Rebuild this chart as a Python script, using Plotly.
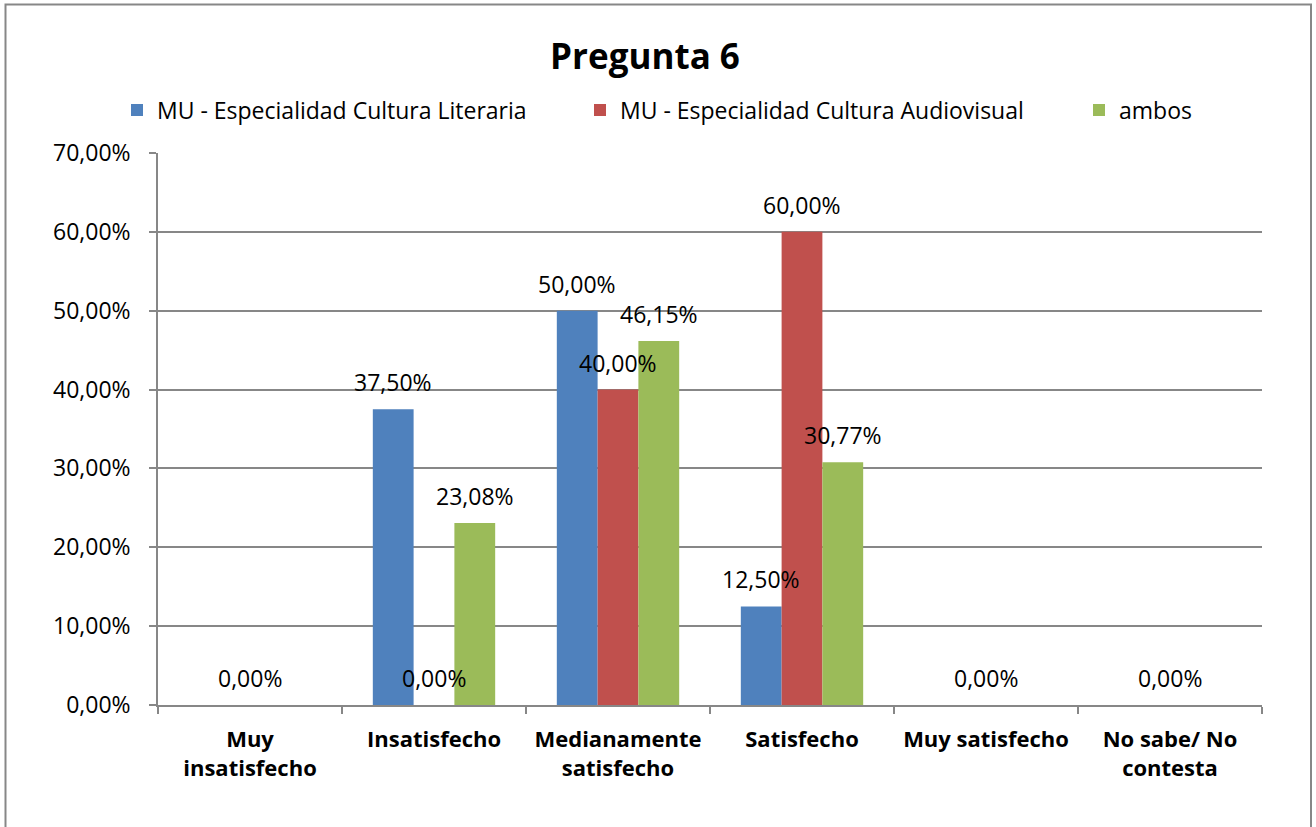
import plotly.graph_objects as go

categories = ["Muy<br>insatisfecho", "Insatisfecho", "Medianamente<br>satisfecho",
              "Satisfecho", "Muy satisfecho", "No sabe/ No<br>contesta"]
literaria = [None, 0.375, 0.50, 0.125, None, None]
audiovisual = [0.0, 0.0, 0.40, 0.60, 0.0, 0.0]
ambos = [None, 0.2308, 0.4615, 0.3077, None, None]
series_names = ["MU - Especialidad Cultura Literaria",
                "MU - Especialidad Cultura Audiovisual", "ambos"]
colors = ["#4F81BD", "#C0504D", "#9BBB59"]
ytick_vals = [0, 0.1, 0.2, 0.3, 0.4, 0.5, 0.6, 0.7]

FONT = "Open Sans"
W, H = 1316, 827
L, R, T, B = 158, 54, 153, 122
pw, ph = W - L - R, H - T - B


def px_x(p):
    return (p - L) / pw


def px_y(p):
    return (H - B - p) / ph


fig = go.Figure()
legend_ids = ["legend", "legend2", "legend3"]
for name, vals, col, lg in zip(series_names, [literaria, audiovisual, ambos], colors, legend_ids):
    fig.add_trace(go.Bar(
        x=categories, y=vals, name=name, marker_color=col,
        marker_line_width=0, legend=lg,
    ))

# data labels as annotations (drawn on top of all bars)
bar_px = pw / len(categories) * (1 - 0.335) / 3
annotations = []
for i, vals in enumerate([literaria, audiovisual, ambos]):
    for cat, v in zip(categories, vals):
        if v is None:
            continue
        annotations.append(dict(
            x=cat, y=v, xref="x", yref="y",
            text=f"{v * 100:.2f}%".replace(".", ","),
            showarrow=False, xshift=(i - 1) * bar_px, yshift=27,
            yanchor="middle", xanchor="center",
            font=dict(family=FONT, size=23, color="#000000"),
        ))

legend_common = dict(orientation="h", yanchor="middle", y=px_y(110),
                     xanchor="left", font=dict(family=FONT, size=23, color="#000000"),
                     bgcolor="rgba(0,0,0,0)", itemwidth=30)

fig.update_layout(
    width=W, height=H,
    margin=dict(l=L, r=R, t=T, b=B),
    paper_bgcolor="white", plot_bgcolor="white",
    separators=",.",
    barmode="group", bargap=0.335, bargroupgap=0,
    font=dict(family=FONT, size=23, color="#000000"),
    title=dict(text="<b>Pregunta 6</b>", x=px_x(645), xref="paper", xanchor="center",
               y=1 - 57 / H, yanchor="middle", yref="container",
               font=dict(family=FONT, size=35, color="#000000")),
    legend=dict(x=px_x(117), **legend_common),
    legend2=dict(x=px_x(580), **legend_common),
    legend3=dict(x=px_x(1079), **legend_common),
    showlegend=True,
    annotations=annotations,
    shapes=[dict(type="rect", xref="paper", yref="paper",
                 x0=px_x(5.5), x1=px_x(1311), y0=px_y(860), y1=px_y(4.5),
                 line=dict(color="#878787", width=2), fillcolor="rgba(0,0,0,0)", layer="below")],
)
fig.update_xaxes(
    type="category", tickson="boundaries", ticks="outside", ticklen=7, tickcolor="#878787",
    tickwidth=1.5, ticklabelstandoff=14,
    showline=True, linecolor="#878787", linewidth=1.5,
    tickfont=dict(family=FONT, size=22, color="#000000", weight="bold"),
    showgrid=False,
)
fig.update_yaxes(
    range=[0, 0.7], tickvals=ytick_vals, tickformat=".2%",
    ticks="outside", ticklen=7, tickcolor="#878787", tickwidth=1.5, ticklabelstandoff=14,
    showline=True, linecolor="#878787", linewidth=1.5,
    showgrid=True, gridcolor="#878787", gridwidth=1.5,
    tickfont=dict(family=FONT, size=23, color="#000000"),
    zeroline=False,
)
fig.write_html("out.html", config={"displayModeBar": False},
               post_script="document.body.style.margin='0';")
